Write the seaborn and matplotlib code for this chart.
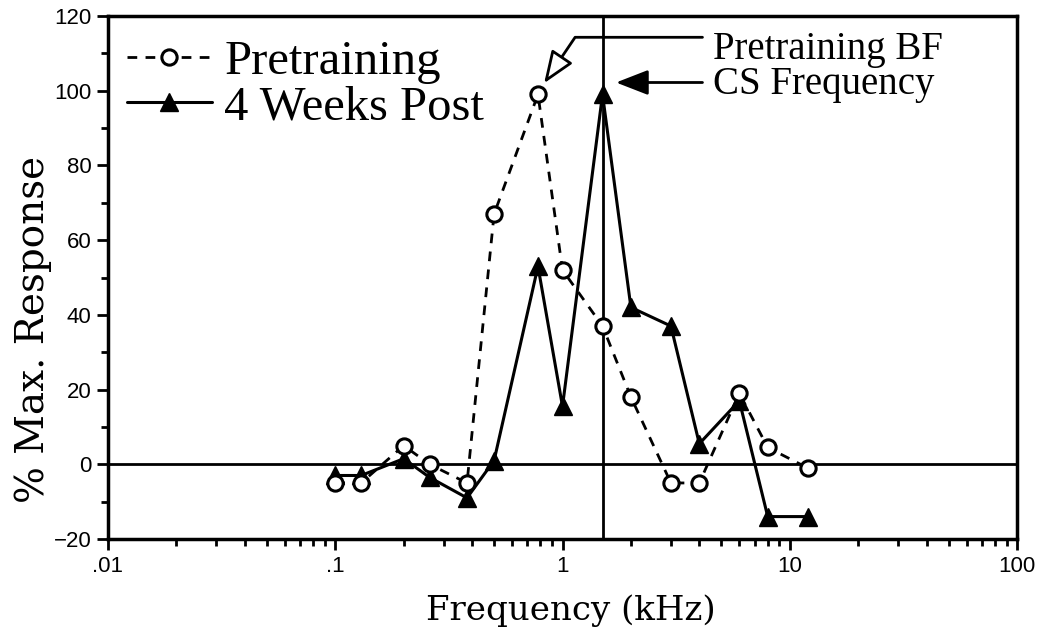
import matplotlib
matplotlib.use("Agg")
import matplotlib.pyplot as plt
import numpy as np
import pandas as pd
import seaborn as sns
from matplotlib.ticker import FixedLocator, FixedFormatter, LogLocator, NullFormatter, MultipleLocator

# ---- data ----
freq_khz = [0.1, 0.13, 0.2, 0.26, 0.38, 0.5, 0.78, 1.0, 1.5, 2.0, 3.0, 4.0, 6.0, 8.0, 12.0]
pretraining = [-5, -5, 5, 0, -5, 67, 99, 52, 37, 18, -5, -5, 19, 4.5, -1]
weeks4_post = [-3, -3, 1.5, -3.5, -9, 1, 53, 15.5, 99, 42, 37, 5.5, 17, -14, -14]
series_names = ["Pretraining", "4 Weeks Post"]
cs_frequency = 1.5
x_ticks = [0.01, 0.1, 1, 10, 100]
x_tick_labels = [".01", ".1", "1", "10", "100"]
y_ticks = [-20, 0, 20, 40, 60, 80, 100, 120]

sns.set_style("ticks")
plt.rcParams["font.family"] = ["DejaVu Serif"]
plt.rcParams["text.color"] = "black"
plt.rcParams["axes.labelcolor"] = "black"
plt.rcParams["xtick.color"] = "black"
plt.rcParams["ytick.color"] = "black"

W, H = 1052, 639
fig = plt.figure(figsize=(W / 100, H / 100), dpi=100)
ax = fig.add_axes([108 / W, 1 - 539 / H, (1017 - 108) / W, (539 - 16) / H])

ax.set_xscale("log")

# reference lines
ax.axhline(0, color="black", lw=2, zorder=1)
ax.axvline(cs_frequency, color="black", lw=2, zorder=1)

df_post = pd.DataFrame({"freq": freq_khz, "resp": weeks4_post})
df_pre = pd.DataFrame({"freq": freq_khz, "resp": pretraining})

sns.lineplot(data=df_post, x="freq", y="resp", ax=ax, color="black", lw=2.2,
             marker="^", markersize=13, markerfacecolor="black",
             markeredgecolor="black", markeredgewidth=1, label=series_names[1],
             zorder=3, errorbar=None, sort=False)
sns.lineplot(data=df_pre, x="freq", y="resp", ax=ax, color="black", lw=2.0,
             linestyle=(0, (3.5, 3)), marker="o", markersize=11,
             markerfacecolor="white", markeredgecolor="black", markeredgewidth=2.2,
             label=series_names[0], zorder=4, errorbar=None, sort=False)

ax.set_xlim(0.01, 100)
ax.set_ylim(-20, 120)

ax.xaxis.set_major_locator(FixedLocator(x_ticks))
ax.xaxis.set_major_formatter(FixedFormatter(x_tick_labels))
ax.xaxis.set_minor_locator(LogLocator(base=10, subs=np.arange(2, 10), numticks=20))
ax.xaxis.set_minor_formatter(NullFormatter())
ax.yaxis.set_major_locator(FixedLocator(y_ticks))
ax.yaxis.set_minor_locator(MultipleLocator(10))

ax.tick_params(axis="both", which="major", direction="out", length=8, width=2,
               labelsize=16, pad=4, color="black", labelcolor="black")
ax.tick_params(axis="both", which="minor", direction="out", length=5, width=2,
               color="black")
for lab in ax.get_xticklabels() + ax.get_yticklabels():
    lab.set_fontfamily("Liberation Sans")

for sp in ax.spines.values():
    sp.set_linewidth(2.5)
    sp.set_color("black")
    sp.set_visible(True)

ax.set_xlabel("Frequency (kHz)", fontsize=24.5, color="black")
ax.set_ylabel("% Max. Response", fontsize=28, color="black")
ax.xaxis.set_label_coords(0.509, -0.105)
ax.yaxis.set_label_coords(-0.062, 0.40)

# legend
handles, labels = ax.get_legend_handles_labels()
order = [labels.index(series_names[0]), labels.index(series_names[1])]
leg = ax.legend([handles[i] for i in order], [labels[i] for i in order],
                loc="upper left", bbox_to_anchor=(-0.006, 1.0), frameon=False,
                prop={"family": "Liberation Serif", "size": 35},
                handlelength=1.75, handletextpad=0.25, labelspacing=0.02,
                borderaxespad=0.3, borderpad=0.2, numpoints=1)
for t in leg.get_texts():
    t.set_color("black")

# annotations
ax.annotate("", xy=(0.83, 102), xytext=(4.13, 114.3),
            arrowprops=dict(arrowstyle="-|>,head_length=0.9,head_width=0.35",
                            connectionstyle="angle,angleA=0,angleB=56,rad=0",
                            fc="white", ec="black", lw=2, mutation_scale=22,
                            shrinkA=0, shrinkB=0))
ax.text(4.6, 108.6, "Pretraining BF", family="Liberation Serif", fontsize=28,
        ha="left", va="baseline", color="black")
ax.annotate("", xy=(1.72, 102.2), xytext=(4.13, 102.2),
            arrowprops=dict(arrowstyle="-|>,head_length=0.9,head_width=0.35",
                            fc="black", ec="black", lw=2, mutation_scale=22,
                            shrinkA=0, shrinkB=0))
ax.text(4.6, 99, "CS Frequency", family="Liberation Serif", fontsize=28,
        ha="left", va="baseline", color="black")

fig.savefig("out.png", dpi=100)
